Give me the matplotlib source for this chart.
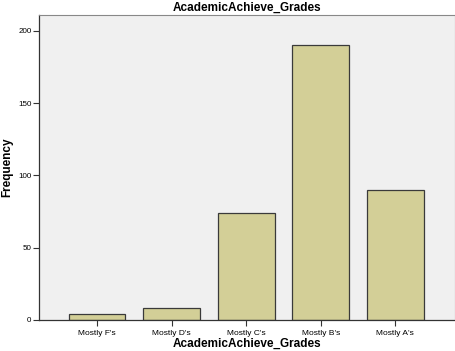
import matplotlib.pyplot as plt

plt.rcParams['font.family'] = ['Liberation Sans', 'DejaVu Sans']

categories = ["Mostly F's", "Mostly D's", "Mostly C's", "Mostly B's", "Mostly A's"]
frequency = [4, 8, 74, 190, 90]

fig = plt.figure(figsize=(4.56, 3.51), dpi=100)
ax = fig.add_axes([39 / 456, 31 / 351, 416 / 456, 305 / 351])
ax.set_facecolor('#f0f0f0')

x = range(len(categories))
ax.bar(x, frequency, width=0.76, color='#d3cf97', edgecolor='#3a3a3a', linewidth=0.9)

ax.set_xlim(-0.78, 4.8)
ax.set_ylim(0, 211)
ax.set_yticks([0, 50, 100, 150, 200])
ax.set_xticks(list(x))
ax.set_xticklabels(categories)
ax.tick_params(axis='both', labelsize=5.8, color='#333333', length=4, width=0.8, pad=1.5)
ax.tick_params(axis='x', labelsize=6, pad=3)

for side in ['top', 'right']:
    ax.spines[side].set_color('#888888')
    ax.spines[side].set_linewidth(0.8)
for side in ['left', 'bottom']:
    ax.spines[side].set_color('#333333')
    ax.spines[side].set_linewidth(0.9)

ax.set_title('AcademicAchieve_Grades', fontsize=8.5, fontweight='bold', pad=3)
ax.set_xlabel('AcademicAchieve_Grades', fontsize=8.5, fontweight='bold', va='center')
ax.set_ylabel('Frequency', fontsize=8.5, fontweight='bold', va='center')
ax.xaxis.set_label_coords(0.5, -24 / 305)
ax.yaxis.set_label_coords(-32 / 416, 0.5)

fig.savefig('out.png', dpi=100)
